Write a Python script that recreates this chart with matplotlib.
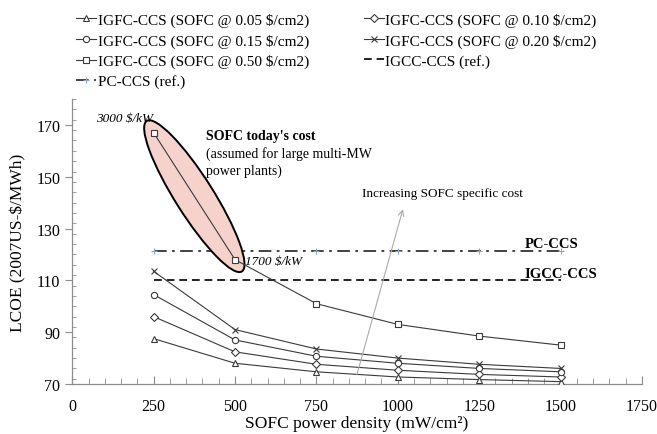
import numpy as np
import matplotlib
matplotlib.use("Agg")
import matplotlib.pyplot as plt
from matplotlib.patches import Ellipse
from matplotlib.transforms import ScaledTranslation
from matplotlib.ticker import MultipleLocator

plt.rcParams['font.family'] = ['Liberation Serif', 'DejaVu Serif']

# SOFC power density (mW/cm2)
density = [250, 500, 750, 1000, 1250, 1500]

# LCOE (2007US-$/MWh) for each SOFC specific cost
lcoe_005 = [87.5, 78.0, 74.7, 72.7, 71.7, 70.9]
lcoe_010 = [96.0, 82.4, 77.6, 75.3, 73.7, 72.7]
lcoe_015 = [104.5, 87.0, 80.7, 78.0, 76.0, 74.7]
lcoe_020 = [113.5, 91.0, 83.5, 80.0, 77.6, 76.0]
lcoe_050 = [167.0, 118.0, 101.0, 93.0, 88.5, 85.0]

igcc_ref = 110.0
pc_ref = 121.5

series = [
    ("IGFC-CCS (SOFC @ 0.05 $/cm2)", lcoe_005, "^"),
    ("IGFC-CCS (SOFC @ 0.10 $/cm2)", lcoe_010, "D"),
    ("IGFC-CCS (SOFC @ 0.15 $/cm2)", lcoe_015, "o"),
    ("IGFC-CCS (SOFC @ 0.20 $/cm2)", lcoe_020, "x"),
    ("IGFC-CCS (SOFC @ 0.50 $/cm2)", lcoe_050, "s"),
]

fig = plt.figure(figsize=(6.57, 4.35), dpi=100)
ax = fig.add_axes([0.11, 0.115, 0.867, 0.655])

lc = "#3a3a3a"
handles = {}
for name, vals, mk in series:
    ms = 4.5 if mk != "D" else 3.8
    h, = ax.plot(density, vals, color=lc, lw=0.8, marker=mk, ms=ms,
                 mfc="white", mec=lc, mew=0.8, label=name, zorder=3)
    handles[name] = h

h_igcc, = ax.plot(density, [igcc_ref] * len(density), color="#222222", lw=1.4,
                  ls=(0, (4, 2.5)), label="IGCC-CCS (ref.)")
h_pc, = ax.plot(density, [pc_ref] * len(density), color="#333333", lw=1.3,
                ls=(0, (7, 3, 1.5, 3)), marker="+", ms=5, mec="#8fa3d6",
                mew=0.8, label="PC-CCS (ref.)")

ax.set_xlim(0, 1750)
ax.set_ylim(70, 180)
ax.set_xticks(np.arange(0, 1751, 250))
ax.set_yticks(np.arange(70, 171, 20))
ax.xaxis.set_minor_locator(MultipleLocator(50))
ax.yaxis.set_minor_locator(MultipleLocator(4))

for s in ["top", "right"]:
    ax.spines[s].set_visible(False)
for s in ["left", "bottom"]:
    ax.spines[s].set_color("#8c8c8c")
    ax.spines[s].set_linewidth(0.9)
ax.tick_params(axis="x", which="major", direction="in", length=6, color="#8c8c8c",
               labelsize=11.5, pad=10)
ax.tick_params(axis="x", which="minor", direction="in", length=4, color="#8c8c8c")
ax.tick_params(axis="y", which="major", direction="out", length=5, color="#8c8c8c",
               labelsize=11.5)
ax.tick_params(axis="y", which="minor", direction="in", length=3, color="#8c8c8c")

ax.set_xlabel("SOFC power density (mW/cm\u00b2)", fontsize=12.5, labelpad=1)
ax.set_ylabel("LCOE (2007US-$/MWh)", fontsize=12.5, labelpad=7)

# ellipse around today's cost points, drawn in inches around the data midpoint
cx = (density[0] + density[1]) / 2
cy = (lcoe_050[0] + lcoe_050[1]) / 2
tr = fig.dpi_scale_trans + ScaledTranslation(cx, cy, ax.transData)
ell = Ellipse((0, 0), 1.78, 0.38, angle=-57.7, transform=tr,
              facecolor="#f6d2cc", edgecolor="black", lw=1.4, zorder=2)
ax.add_patch(ell)

ax.text(248, 172.5, "3000 $/kW", style="italic", fontsize=9.5, ha="right", va="center")
ax.text(530, 117.3, "1700 $/kW", style="italic", fontsize=9.5, ha="left", va="center")
ax.text(410, 166, "SOFC today's cost", fontsize=10, fontweight="bold", va="center")
ax.text(410, 159.3, "(assumed for large multi-MW", fontsize=10, va="center")
ax.text(410, 152.5, "power plants)", fontsize=10, va="center")

ax.annotate("", xy=(1018, 138.5), xytext=(872, 72.5),
            arrowprops=dict(arrowstyle="->", color="#aaaaaa", lw=0.8))
ax.text(890, 143.8, "Increasing SOFC specific cost", fontsize=9.5, va="center")

ax.text(1390, 124.3, "PC-CCS", fontsize=10.5, fontweight="bold", va="center")
ax.text(1390, 112.8, "IGCC-CCS", fontsize=10.5, fontweight="bold", va="center")

order = [handles[series[0][0]], handles[series[2][0]], handles[series[4][0]], h_pc,
         handles[series[1][0]], handles[series[3][0]], h_igcc]
fig.legend(handles=order, labels=[h.get_label() for h in order], ncol=2,
           loc="upper left", bbox_to_anchor=(0.095, 1.0), frameon=False,
           fontsize=11, handlelength=1.3, handletextpad=0.1, columnspacing=3.6,
           labelspacing=0.42)

fig.savefig("out.png", dpi=100)
